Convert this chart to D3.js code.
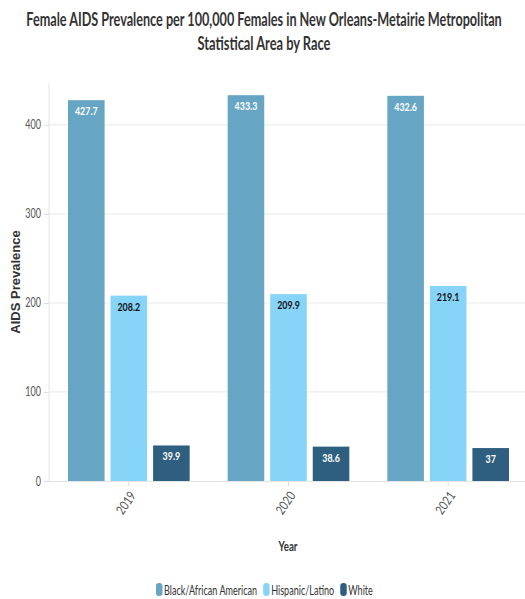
<!DOCTYPE html>
<html><head><meta charset="utf-8">
<script src="https://cdn.jsdelivr.net/npm/d3@7"></script>
<style>
body{margin:0;background:#fff;}
svg{display:block;}
</style></head>
<body><svg id="c" width="525" height="599"></svg>
<script>
const years = ["2019","2020","2021"];
const races = ["Black/African American","Hispanic/Latino","White"];
const black = [427.7, 433.3, 432.6];
const hispanic = [208.2, 209.9, 219.1];
const white = [39.9, 38.6, 37];
const yTicks = [0,100,200,300,400];
const colors = ["#67a5c5","#87d4f9","#2f5f80"];
const labelColors = ["#ffffff","#111111","#ffffff"];
const titleLines = ["Female AIDS Prevalence per 100,000 Females in New Orleans-Metairie Metropolitan","Statistical Area by Race"];

(function(){
const series = [black, hispanic, white];
const svg = d3.select("#c");
const font = '"Lato","Noto Sans",sans-serif';
const CF = 0.72;
function condense(sel, f){
  sel.each(function(){
    const w = this.getComputedTextLength();
    d3.select(this).attr("textLength", w*f).attr("lengthAdjust","spacingAndGlyphs");
  });
}
// text squeezed horizontally by a transform (keeps real text)
function squeezed(parent, x, y, anchor, sx){
  return parent.append("text").attr("x",0).attr("y",0)
    .attr("text-anchor",anchor)
    .attr("transform",`translate(${x},${y}) scale(${sx},1)`);
}

const mLeft = 49, mRight = 528, mTop = 83, mBottom = 481;
const y = d3.scaleLinear().domain([0,447]).range([mBottom, mTop]);
const x0 = d3.scaleBand().domain(years).range([mLeft, mRight]).paddingInner(0).paddingOuter(0);
const x1 = d3.scaleBand().domain(races).range([19, x0.bandwidth()-19]).paddingInner(0.14);

// title, scaled to measured widths
const titleW = [476, 133];
titleLines.forEach((line,i)=>{
  const t = squeezed(svg, 264, 26+i*24, "middle", 1)
    .style("font-family",font).style("font-weight","700")
    .style("font-size","18.5px").style("fill","#333").text(line);
  const w = t.node().getComputedTextLength();
  t.attr("transform",`translate(264,${26+i*24}) scale(${titleW[i]/w},1)`);
});

svg.append("g").selectAll("line").data(yTicks.filter(d=>d>0)).join("line")
  .attr("x1",mLeft).attr("x2",525).attr("y1",d=>y(d)).attr("y2",d=>y(d))
  .attr("stroke","#e8e8e8").attr("stroke-width",1);

const ya = svg.append("g").attr("transform",`translate(${mLeft},0)`)
  .call(d3.axisLeft(y).tickValues(yTicks).tickSize(5).tickPadding(3).tickFormat(d3.format("d")));
ya.select(".domain").attr("stroke","#e4e4e4").attr("d",`M-0,${mBottom}V${mTop}`);
ya.selectAll(".tick line").attr("stroke","#dcdcdc");
ya.selectAll("text").style("font-family",font).style("font-size","12.5px").style("fill","#555").call(condense, CF);

const xa = svg.append("g").attr("transform",`translate(0,${mBottom})`)
  .call(d3.axisBottom(x0).tickSize(5).tickPadding(6));
xa.select(".domain").attr("stroke","#e4e4e4").attr("d",`M${mLeft},0.5H525`);
xa.selectAll(".tick line").attr("stroke","#dcdcdc");
xa.selectAll("text").style("font-family",font).style("font-size","13px").style("fill","#555")
  .attr("text-anchor","end").attr("x",0).attr("y",0).attr("dy","0.35em")
  .attr("transform","translate(4,12) rotate(-55)").call(condense, 0.8);

const groups = svg.append("g").selectAll("g").data(years).join("g")
  .attr("transform",d=>`translate(${x0(d)},0)`);
groups.each(function(yr, yi){
  const g = d3.select(this);
  races.forEach((r, ri)=>{
    const v = series[ri][yi];
    g.append("rect").attr("x",x1(r)).attr("width",x1.bandwidth())
      .attr("y",y(v)).attr("height",mBottom-y(v))
      .attr("fill",colors[ri]);
    g.append("text").attr("x",x1(r)+x1.bandwidth()/2).attr("y",y(v)+15)
      .attr("text-anchor","middle")
      .style("font-family",font).style("font-weight","700").style("font-size","12px")
      .style("fill",labelColors[ri]).text(v).call(condense, 0.74);
  });
});

squeezed(svg, 288, 551, "middle", 0.72)
  .style("font-family",font).style("font-weight","700").style("font-size","13.5px").style("fill","#333")
  .text("Year");
svg.append("text").attr("transform","translate(20,282) rotate(-90)").attr("text-anchor","middle")
  .style("font-family","'Liberation Sans',Arial,sans-serif").style("font-weight","700").style("font-size","13px").style("fill","#333")
  .text("AIDS Prevalence");

const lg = svg.append("g").attr("transform","translate(156,583)");
let lx = 0;
races.forEach((r,i)=>{
  lg.append("rect").attr("x",lx).attr("width",6.5).attr("height",13).attr("rx",3).attr("fill",colors[i]);
  const t = squeezed(lg, lx+8, 11.5, "start", 0.72)
    .style("font-family",font).style("font-size","12.6px").style("fill","#333").text(r);
  const w = t.node().getComputedTextLength() * 0.72;
  lx += 8 + w + 6;
});
})();
</script></body></html>
